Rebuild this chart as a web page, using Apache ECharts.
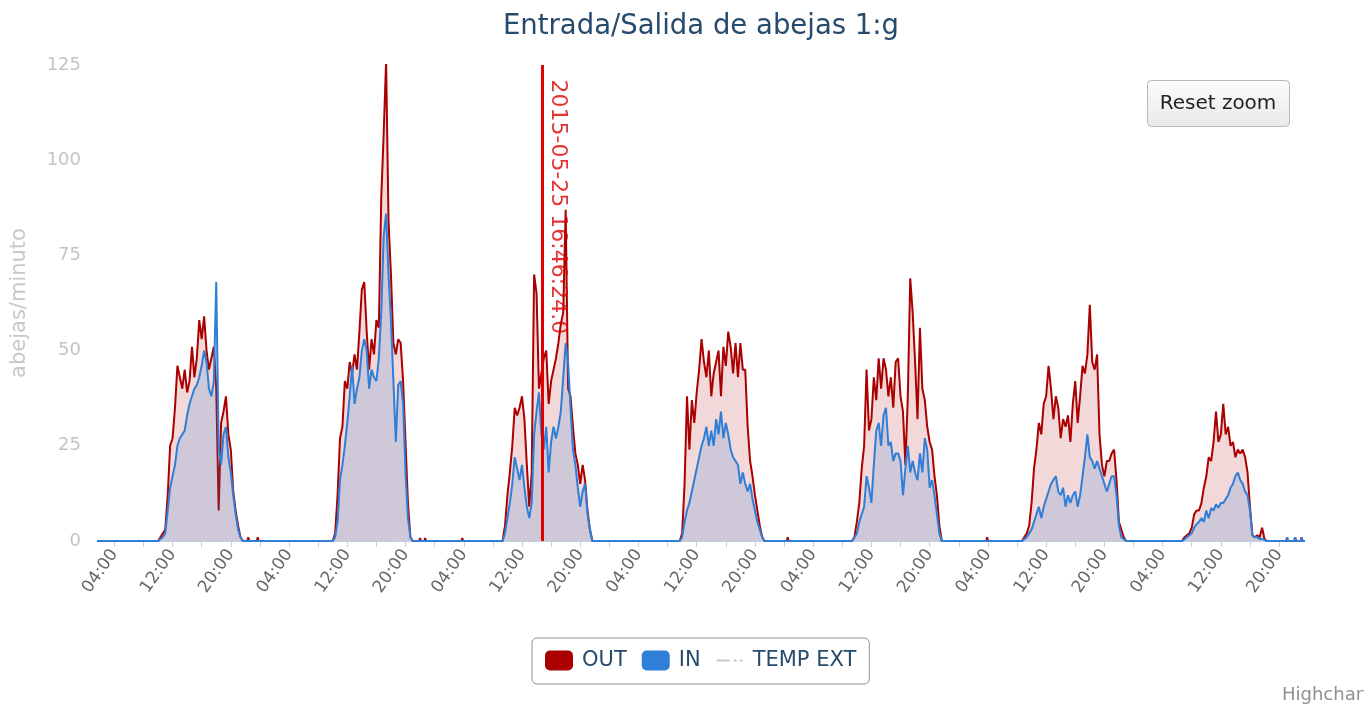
<!DOCTYPE html>
<html><head><meta charset="utf-8">
<script src="https://cdn.jsdelivr.net/npm/echarts@6/dist/echarts.min.js"></script>
<style>html,body{margin:0;padding:0;background:#fff}#c{width:1364px;height:704px}</style>
</head><body><div id="c"></div>
<script>
// x values are hours since 2015-05-23 00:00 UTC
const xMin = 1.62, xMax = 167.56;
const stepHours = 1 / 3; // 20-minute samples inside each daily hump
const dayStart = [10.0, 34.0, 57.333, 81.667, 105.333, 128.667, 150.667];

const out1 = [0,1,2,3,12,25,27,35,46,43,40,45,39,42,51,43,48,58,53,59,50,45,48,51,40,8,31,34,38,28,24,13,8,4,1,0];
const in1  = [0,0.5,1,2,8,14,17,20,25,27,28,29,33,36,38,40,41,43,46,50,47,40,38,42,68,25,20,28,30,22,18,12,7,3,1,0];
const out2 = [0,2,12,27,30,42,40,47,44,49,45,55,66,68,55,45,53,49,58,56,90,107,126,84,70,52,49,53,52,42,26,10,1,0];
const in2  = [0,1,5,16,20,25,31,38,46,36,40,43,50,53,50,40,45,43,42,48,60,80,86,70,58,42,26,41,42,36,18,6,1,0];
const out3 = [0,4,12,18,25,35,33,35,38,32,20,9,18,70,65,40,44,48,50,36,42,45,48,52,57,60,87,40,38,30,23,20,15,20,16,8,3,0];
const in3  = [0,2,6,10,15,22,19,16,20,14,9,6,10,28,34,39,28,24,30,18,26,30,27,30,34,43,52,47,35,24,20,14,9,13,15,7,3,0];
const out4 = [0,2,15,38,24,37,31,39,45,53,47,43,50,38,44,47,50,38,51,46,55,51,44,52,43,52,45,45,30,21,17,12,8,4,1,0];
const in4  = [0,1,5,8,10,13,16,19,22,25,27,30,25,29,25,32,28,34,27,31,28,24,22,21,20,15,18,15,13,15,11,8,5,3,1,0];
const out5 = [0,1,5,10,19,25,45,29,32,43,37,48,40,48,45,38,43,35,47,48,38,34,20,38,69,60,47,32,56,40,37,30,26,24,17,12,4,0];
const in5  = [0,1,2,5,7,9,17,14,10,20,29,31,25,33,35,25,26,21,23,23,21,12,19,25,18,21,18,16,23,18,27,24,14,16,12,7,2,0];
const out6 = [0,1,2,4,10,19,24,31,28,36,38,46,40,32,38,35,27,32,30,33,26,36,42,31,38,46,44,49,62,47,45,49,28,20,17,21,21,23,24,16,5,3,1,0];
const in6  = [0,0.5,1,2,3,5,7,9,6,9,11,13,15,16,17,13,12,14,9,12,10,12,13,9,12,17,22,28,22,21,19,21,19,17,15,13,15,17,17,12,4,1,0.5,0];
const out7 = [0,1,1.5,2,3.5,7,8,8,10,14,17,22,21,26,34,26,28,36,28,30,25,26,22,24,23,24,22,18,9,1.5,1,1.5,1,3.5,0.5,0];
const in7  = [0,0.4,1,1.5,2,3.5,4.4,5,6,5,8,6,8.7,8,9.6,8.7,10,10,11,12,14,15,17,18,16,15,13,12,8,1.5,1,1,0.5,0.5,0.3,0];

// isolated small readings between humps
const blipHours = [22.4, 23.7, 46.0, 46.7, 51.8, 96.5, 123.9, 125.9, 127.3, 165.1, 166.2, 167.1];
const blipOut   = [1, 1, 0.8, 0.8, 0.8, 1, 1, 0.5, 0.5, 1, 1, 1];
const blipIn    = [0, 0, 0.5, 0, 0.5, 0, 0.5, 0.5, 0.5, 1, 1, 1];

const plotLineHour = 62.773; // 2015-05-25 16:46:24 local (UTC+2)
const plotLineLabel = '2015-05-25 16:46:24.0';

const tickHours = [4,8,12,16,20,24,28,32,36,40,44,48,52,56,60,64,68,72,76,80,84,88,92,96,100,104,108,112,116,120,124,128,132,136,140,144,148,152,156,160,164];
const labelHours = [4,12,20,28,36,44,52,60,68,76,84,92,100,108,116,124,132,140,148,156,164];

const outDays = [out1, out2, out3, out4, out5, out6, out7];
const inDays = [in1, in2, in3, in4, in5, in6, in7];

function build(days, blips) {
  const pts = [];
  days.forEach((arr, d) => arr.forEach((v, k) => pts.push([dayStart[d] + k * stepHours, v])));
  blipHours.forEach((h, i) => {
    if (blips[i] > 0) { pts.push([h - 0.12, 0], [h, blips[i]], [h + 0.12, 0]); }
  });
  pts.sort((a, b) => a[0] - b[0]);
  return [[xMin, 0]].concat(pts, [[xMax, 0]]);
}

const FONT = '"DejaVu Sans", sans-serif';
const pad = n => (n < 10 ? '0' : '') + n;
// dash-dot legend glyph (tiny corner marks keep the 28x20 box)
const dashDotIcon = 'path://M0,0h0.01v0.01h-0.01z M27.99,19.99h0.01v0.01h-0.01z M1,9h13v2h-13z M18,9h3v2h-3z M24,9h3v2h-3z';

const chart = echarts.init(document.getElementById('c'), null, {renderer: 'canvas'});
chart.setOption({
  animation: false,
  backgroundColor: '#fff',
  textStyle: {fontFamily: FONT},
  title: {
    text: 'Entrada/Salida de abejas 1:g', left: 701, top: 13, padding: 0, textAlign: 'center',
    textStyle: {color: '#274b6d', fontSize: 27.5, fontWeight: 'normal', fontFamily: FONT}
  },
  grid: {left: 97, right: 59, top: 65, bottom: 163},
  legend: {
    left: 532, top: 638, padding: [12, 13, 13, 13],
    borderColor: '#909090', borderWidth: 1, borderRadius: 5,
    itemWidth: 28, itemHeight: 20, itemGap: 15,
    textStyle: {color: '#274b6d', fontSize: 21, fontFamily: FONT, padding: [0, 0, 0, 4]},
    data: [{name: 'OUT', icon: 'roundRect'}, {name: 'IN', icon: 'roundRect'}, {name: 'TEMP EXT', icon: dashDotIcon}]
  },
  xAxis: {
    type: 'value', min: xMin, max: xMax,
    axisLine: {show: true, lineStyle: {color: '#c0d0e0'}},
    axisTick: {show: true, customValues: tickHours, length: 6, lineStyle: {color: '#c0d0e0'}},
    axisLabel: {
      customValues: labelHours, rotate: 55, margin: 10, color: '#666', fontSize: 17, fontFamily: FONT,
      formatter: v => pad(Math.round(v) % 24) + ':00'
    },
    splitLine: {show: false}
  },
  yAxis: {
    type: 'value', min: 0, max: 125, interval: 25,
    name: 'abejas/minuto', nameLocation: 'middle', nameGap: 67,
    nameTextStyle: {color: '#c8c8c8', fontSize: 21, fontFamily: FONT},
    axisLine: {show: false}, axisTick: {show: false},
    axisLabel: {color: '#c4c4c4', fontSize: 18, margin: 16, fontFamily: FONT},
    splitLine: {show: false}
  },
  series: [
    {
      name: 'OUT', type: 'line', data: build(outDays, blipOut), symbol: 'none', showSymbol: false,
      color: '#aa0000', lineStyle: {width: 2, color: '#aa0000'},
      areaStyle: {color: 'rgba(170,0,0,0.22)'}, z: 2,
      markLine: {
        silent: true, symbol: ['none', 'none'], label: {show: false},
        lineStyle: {color: '#e00000', width: 3, type: 'solid'},
        data: [{xAxis: plotLineHour}]
      }
    },
    {
      name: 'IN', type: 'line', data: build(inDays, blipIn), symbol: 'none', showSymbol: false,
      color: '#2f7ed8', lineStyle: {width: 2, color: '#2f7ed8'},
      areaStyle: {color: 'rgba(47,126,216,0.25)'}, z: 3
    },
    {
      name: 'TEMP EXT', type: 'line', data: [], symbol: 'none', color: '#c8c8c8',
      lineStyle: {width: 2, color: '#c8c8c8', type: [12, 4, 2, 4, 2, 6]}
    },
    {
      name: 'plotLineLabel', type: 'scatter', data: [[plotLineHour, 125]], symbolSize: 1, silent: true, z: 5,
      itemStyle: {color: 'rgba(0,0,0,0)'},
      label: {
        show: true, formatter: plotLineLabel, position: [5, 15], rotate: -90,
        align: 'left', verticalAlign: 'bottom', color: '#dd0000', fontSize: 22, fontFamily: FONT
      }
    }
  ],
  graphic: [
    {
      type: 'rect', left: 1147, top: 80, shape: {width: 142, height: 46, r: 4},
      style: {
        fill: new echarts.graphic.LinearGradient(0, 0, 0, 1, [{offset: 0, color: '#fcfcfc'}, {offset: 1, color: '#e9e9e9'}]),
        stroke: '#b8b8b8', lineWidth: 1
      }
    },
    {type: 'text', x: 1218, y: 104, style: {text: 'Reset zoom', font: '20px "DejaVu Sans"', fill: '#222', align: 'center', verticalAlign: 'middle'}},
    {type: 'text', x: 1282, y: 695, style: {text: 'Highcharts', font: '18px "DejaVu Sans"', fill: '#909090', verticalAlign: 'middle'}}
  ]
});
</script>
</body></html>
